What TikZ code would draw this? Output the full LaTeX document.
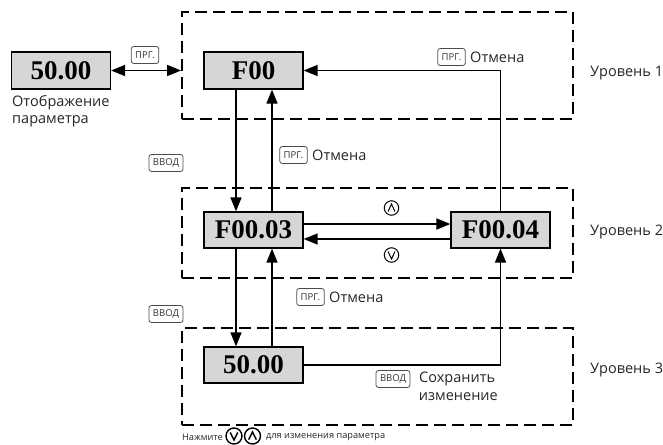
\documentclass[tikz,border=0pt]{standalone}
\usepackage{fontspec}
\setmainfont{Open Sans}
\newfontfamily\boxfont{Liberation Serif}
\usetikzlibrary{arrows.meta,calc}
\begin{document}
\begin{tikzpicture}[x=1pt,y=-1pt,
  disp/.style={draw,line width=1.2pt,fill=black!16,minimum width=99pt,minimum height=37pt,inner sep=0pt,
    font=\boxfont\bfseries\fontsize{27}{27}\selectfont},
  level/.style={draw,dash pattern=on 12pt off 6pt,line width=1.8pt,inner sep=0pt},
  arr/.style={line width=1.5pt,-{Triangle[length=14pt,width=11pt]}},
  darr/.style={line width=1.5pt,{Triangle[length=14pt,width=11pt]}-{Triangle[length=14pt,width=11pt]}},
  key/.style={draw=black!70,rounded corners=2.5pt,line width=0.8pt,font=\fontsize{9.5}{10}\selectfont,
    text=black!80,inner xsep=4pt,inner ysep=0pt,minimum height=17pt},
  lbl/.style={font=\fontsize{14.5}{17}\selectfont,inner sep=0pt,text=black!85},
  small/.style={font=\fontsize{9.2}{10}\selectfont,inner sep=0pt,text=black!85},
  ring/.style={circle,draw,line width=1pt,minimum size=14.5pt,inner sep=0pt},
  bring/.style={circle,draw,line width=1.4pt,minimum size=16pt,inner sep=0pt}
]
\useasboundingbox (0,0) rectangle (663,444);

% level frames
\node[level,minimum width=391pt,minimum height=107pt] (L1) at (377.5,65.5) {};
\node[level,minimum width=391pt,minimum height=90pt] (L2) at (377.5,233) {};
\node[level,minimum width=391pt,minimum height=97pt] (L3) at (377.5,376.5) {};

% display boxes
\node[disp] (d0) at (61,70.5) {50.00};
\node[disp] (F00) at (253.5,70.5) {F00};
\node[disp,minimum height=36pt] (F0003) at (253.5,230) {F00.03};
\node[disp,minimum height=36pt] (F0004) at (500.5,230) {F00.04};
\node[disp,minimum height=36pt] (val) at (253.5,365) {50.00};

% labels
\node[lbl,anchor=north west,align=left] (disptxt) at (12,95) {Отображение\\параметра};
\node[lbl,anchor=west] (lev1) at (590,73) {Уровень 1};
\node[lbl,anchor=west] (lev2) at (590,232) {Уровень 2};
\node[lbl,anchor=west] (lev3) at (590,370) {Уровень 3};

\node[key] (k1) at (145,55) {ПРГ.};
\node[key] (k2) at (166,163) {ВВОД};
\node[key] (k3) at (293.5,155) {ПРГ.};
\node[lbl,anchor=west] (t3) at (312,155) {Отмена};
\node[key] (k4) at (166,314) {ВВОД};
\node[key] (k5) at (310.5,297) {ПРГ.};
\node[lbl,anchor=west] (t5) at (329,297) {Отмена};
\node[key] (k6) at (451.5,57) {ПРГ.};
\node[lbl,anchor=west] (t6) at (470,57) {Отмена};
\node[key] (k7) at (393,379) {ВВОД};
\node[lbl,anchor=west] (t7) at (419,379) {Сохранить};
\node[lbl,anchor=east] (t8) at (498,397) {изменение};

% circled chevrons
\node[ring] (cu) at (391.5,208) {};
\draw[line width=1pt] ($(cu)+(-3.4,3.5)$) -- ($(cu)+(0,-4)$) -- ($(cu)+(3.4,3.5)$);
\node[ring] (cd) at (391.5,255) {};
\draw[line width=1pt] ($(cd)+(-3.4,-3.5)$) -- ($(cd)+(0,4)$) -- ($(cd)+(3.4,-3.5)$);

% connectors
\draw[darr] (d0.east) -- (d0.east -| L1.west);
\draw[arr] (F0004.north) |- (F00.east);
\draw[arr] ($(F00.south)+(-17.5,0)$) -- ($(F0003.north)+(-17.5,0)$);
\draw[arr] ($(F0003.north)+(18.5,0)$) -- ($(F00.south)+(18.5,0)$);
\draw[arr] ($(F0003.south)+(-17.5,0)$) -- ($(val.north)+(-17.5,0)$);
\draw[arr] ($(val.north)+(18.5,0)$) -- ($(F0003.south)+(18.5,0)$);
\draw[arr] ($(F0003.east)+(0,-6)$) -- ($(F0004.west)+(0,-6)$);
\draw[arr] ($(F0004.west)+(0,9)$) -- ($(F0003.east)+(0,9)$);
\draw[arr] (val.east) -| (F0004.south);

% bottom note
\node[small,anchor=west] (n1) at (182,437) {Нажмите};
\node[bring] (bd) at (234,436) {};
\draw[line width=1.4pt] ($(bd)+(-3.8,-3.6)$) -- ($(bd)+(0,4)$) -- ($(bd)+(3.8,-3.6)$);
\node[bring] (bu) at (252.5,436) {};
\draw[line width=1.4pt] ($(bu)+(-3.8,3.6)$) -- ($(bu)+(0,-4)$) -- ($(bu)+(3.8,3.6)$);
\node[small,anchor=west] (n2) at (266,437) {для изменения параметра};
\end{tikzpicture}
\end{document}
